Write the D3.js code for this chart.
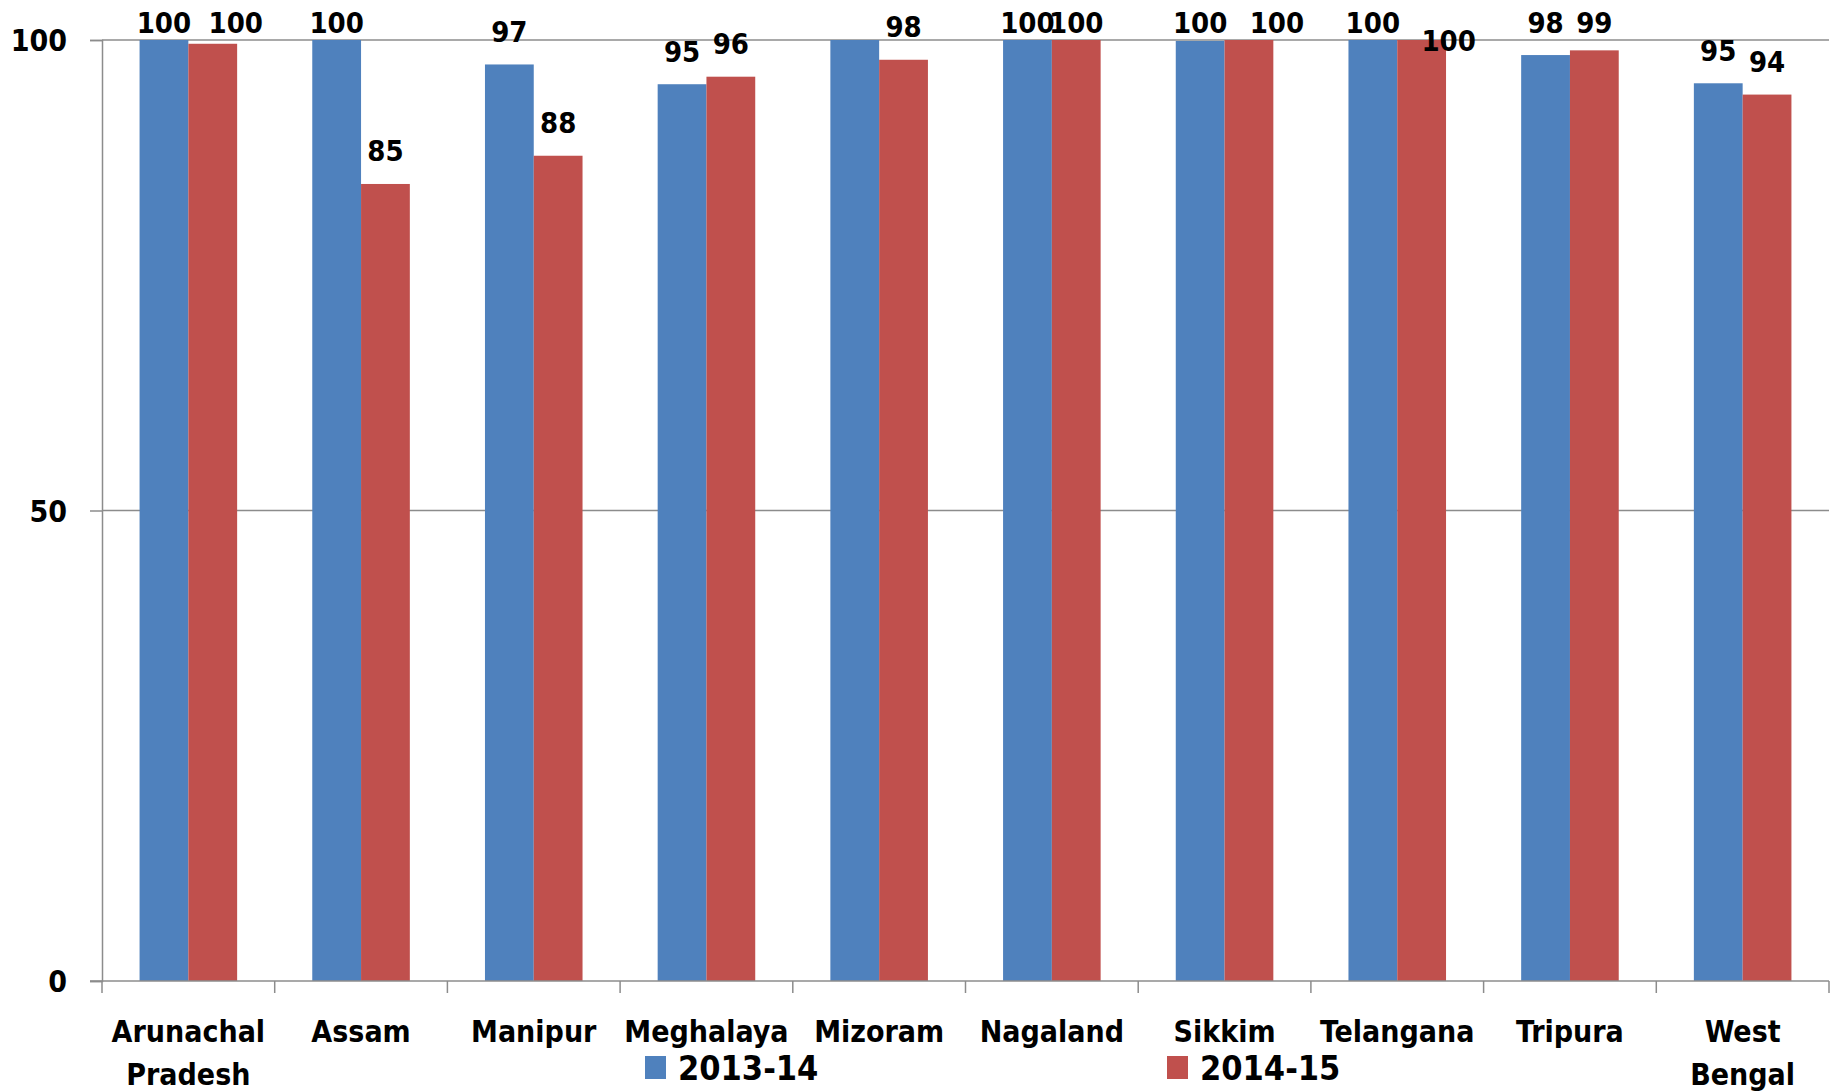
<!DOCTYPE html>
<html>
<head>
<meta charset="utf-8">
<script src="https://cdn.jsdelivr.net/npm/d3@7"></script>
<style>
  body { margin: 0; background: #fff; }
  text { font-family: "DejaVu Sans Condensed", "DejaVu Sans", sans-serif; font-stretch: condensed; font-weight: bold; fill: #000; }
</style>
</head>
<body>
<div id="chart"></div>
<script>
// data
const categories = ["Arunachal Pradesh", "Assam", "Manipur", "Meghalaya", "Mizoram",
  "Nagaland", "Sikkim", "Telangana", "Tripura", "West Bengal"];
const seriesNames = ["2013-14", "2014-15"];
const values2013 = [100, 100, 97.4, 95.3, 100, 100, 99.9, 100, 98.4, 95.4];
const values2014 = [99.6, 84.7, 87.7, 96.1, 97.9, 100, 100, 100, 98.9, 94.2];
const yTicks = [0, 50, 100];

const width = 1835,
  height = 1092;

const colors = ["#4F81BD", "#C0504D"];

// excel moved a few labels around (and dropped one), copy that
const labelNudge = {
  "2014-15|Arunachal Pradesh": [23, 0],
  "2014-15|Sikkim": [28, 0],
  "2014-15|Telangana": [27, 18]
};
const hiddenLabels = ["2013-14|Mizoram"];

const svg = d3.select("#chart")
  .append("svg")
  .attr("width", width)
  .attr("height", height);

const x = d3.scaleBand()
  .domain(categories)
  .range([102, 1829]);

const x1 = d3.scaleBand()
  .domain(seriesNames)
  .range([0, x.bandwidth()])
  .paddingOuter(0.77);

const y = d3.scaleLinear()
  .domain([0, 100])
  .range([981, 40]);

// gridlines
svg.append("g")
  .selectAll("line")
  .data(yTicks.filter(d => d > 0))
  .join("line")
  .attr("x1", 102)
  .attr("x2", 1829)
  .attr("y1", d => y(d))
  .attr("y2", d => y(d))
  .attr("stroke", "#8c8c8c")
  .attr("stroke-width", 1.5);

// y axis
const yAxis = svg.append("g")
  .attr("transform", "translate(102,0)")
  .call(d3.axisLeft(y).tickValues(yTicks).tickSize(12).tickPadding(23).tickFormat(d3.format("d")));
yAxis.select(".domain").attr("stroke", "#8c8c8c").attr("stroke-width", 1.5);
yAxis.selectAll(".tick line").attr("stroke", "#8c8c8c").attr("stroke-width", 1.5);
yAxis.selectAll(".tick text")
  .attr("font-family", null)
  .style("font-size", "30px")
  .attr("dy", "0.36em");

const rows = categories.map((c, i) => ({ cat: c, vals: [values2013[i], values2014[i]] }));

// bars
const groups = svg.append("g")
  .selectAll("g")
  .data(rows)
  .join("g")
  .attr("transform", d => `translate(${x(d.cat)},0)`);

groups.selectAll("rect")
  .data(d => d.vals.map((v, j) => ({ cat: d.cat, name: seriesNames[j], v: v, j: j })))
  .join("rect")
  .attr("x", d => x1(d.name))
  .attr("width", x1.bandwidth())
  .attr("y", d => y(d.v))
  .attr("height", d => y(0) - y(d.v))
  .attr("fill", d => colors[d.j]);

// value labels
groups.selectAll("text")
  .data(d => d.vals.map((v, j) => ({ cat: d.cat, name: seriesNames[j], v: v, j: j }))
    .filter(p => hiddenLabels.indexOf(p.name + "|" + p.cat) < 0))
  .join("text")
  .attr("x", d => x1(d.name) + x1.bandwidth() / 2 + (labelNudge[d.name + "|" + d.cat] || [0, 0])[0])
  .attr("y", d => Math.max(y(d.v) - 33, 23) + (labelNudge[d.name + "|" + d.cat] || [0, 0])[1])
  .attr("dy", "0.36em")
  .attr("text-anchor", "middle")
  .style("font-size", "29px")
  .text(d => Math.round(d.v));

// x axis line and ticks
const y0 = y(0);
svg.append("line")
  .attr("x1", 90).attr("x2", 1829)
  .attr("y1", y0).attr("y2", y0)
  .attr("stroke", "#8c8c8c").attr("stroke-width", 1.5);

const bounds = categories.map(c => x(c)).concat([x.range()[1]]);
svg.append("g")
  .selectAll("line")
  .data(bounds)
  .join("line")
  .attr("x1", d => d).attr("x2", d => d)
  .attr("y1", y0).attr("y2", y0 + 12)
  .attr("stroke", "#8c8c8c").attr("stroke-width", 1.5);

// category labels, two word names wrap
svg.append("g")
  .selectAll("text")
  .data(categories)
  .join("text")
  .attr("text-anchor", "middle")
  .style("font-size", "30px")
  .each(function (d) {
    const lines = d.split(" ");
    d3.select(this).selectAll("tspan")
      .data(lines)
      .join("tspan")
      .attr("x", x(d) + x.bandwidth() / 2)
      .attr("y", (l, k) => 1031 + k * 43)
      .attr("dy", "0.36em")
      .text(l => l);
  });

// legend
const legendX = [645, 1167];
const legend = svg.append("g")
  .selectAll("g")
  .data(seriesNames)
  .join("g")
  .attr("transform", (d, i) => `translate(${legendX[i]},1056)`);
legend.append("rect")
  .attr("width", 21)
  .attr("height", 23)
  .attr("fill", (d, i) => colors[i]);
legend.append("text")
  .attr("x", 33)
  .attr("y", 12)
  .attr("dy", "0.36em")
  .style("font-size", "34px")
  .text(d => d);
</script>
</body>
</html>
